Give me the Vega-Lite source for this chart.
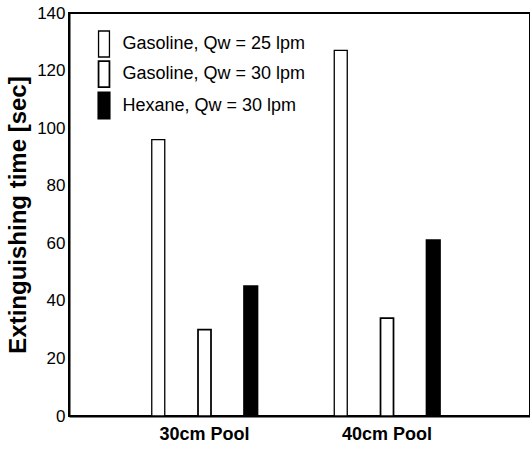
{
  "$schema": "https://vega.github.io/schema/vega-lite/v6.json",
  "width": 461,
  "height": 403,
  "autosize": {"type": "none"},
  "padding": {"left": 69, "top": 13, "right": 0, "bottom": 37},
  "background": "white",
  "config": {
    "font": "Liberation Sans",
    "view": {"stroke": "black", "strokeWidth": 2}
  },
  "data": {
    "values": [
      {"pool": "30cm Pool", "series": "Gasoline, Qw = 25 lpm", "time": 96},
      {"pool": "30cm Pool", "series": "Gasoline, Qw = 30 lpm", "time": 30},
      {"pool": "30cm Pool", "series": "Hexane, Qw = 30 lpm", "time": 45},
      {"pool": "40cm Pool", "series": "Gasoline, Qw = 25 lpm", "time": 127},
      {"pool": "40cm Pool", "series": "Gasoline, Qw = 30 lpm", "time": 34},
      {"pool": "40cm Pool", "series": "Hexane, Qw = 30 lpm", "time": 61}
    ]
  },
  "mark": {"type": "bar", "stroke": "black"},
  "encoding": {
    "x": {
      "field": "pool",
      "type": "nominal",
      "scale": {"paddingInner": 0, "paddingOuter": 0.263, "align": 0.461},
      "axis": {
        "title": null,
        "ticks": false,
        "domainColor": "black",
        "domainWidth": 2,
        "labelFontSize": 18,
        "labelFontWeight": "bold",
        "labelColor": "black",
        "labelPadding": 9,
        "labelAngle": 0
      }
    },
    "xOffset": {
      "field": "series",
      "type": "nominal",
      "scale": {
        "domain": ["Gasoline, Qw = 25 lpm", "Gasoline, Qw = 30 lpm", "Hexane, Qw = 30 lpm"],
        "paddingInner": 0.719,
        "paddingOuter": 0.8325
      }
    },
    "y": {
      "field": "time",
      "type": "quantitative",
      "scale": {"domain": [0, 140], "nice": false},
      "axis": {
        "title": "Extinguishing time [sec]",
        "titleFontSize": 24,
        "titleFontWeight": "bold",
        "titleColor": "black",
        "titlePadding": 6,
        "values": [0, 20, 40, 60, 80, 100, 120, 140],
        "ticks": false,
        "domainColor": "black",
        "domainWidth": 2,
        "labelFontSize": 17,
        "labelColor": "black",
        "labelPadding": 4,
        "labelOverlap": false,
        "labelFlush": false,
        "grid": false
      }
    },
    "fill": {
      "field": "series",
      "type": "nominal",
      "scale": {
        "domain": ["Gasoline, Qw = 25 lpm", "Gasoline, Qw = 30 lpm", "Hexane, Qw = 30 lpm"],
        "range": ["white", "white", "black"]
      },
      "legend": {
        "orient": "none",
        "legendX": 20.5,
        "legendY": 17,
        "title": null,
        "padding": 0,
        "symbolType": "M-0.42,-1H0.42V1H-0.42Z",
        "symbolSize": 676,
        "symbolStrokeColor": "black",
        "labelFontSize": 18,
        "labelColor": "black",
        "labelLimit": 0,
        "rowPadding": -3,
        "labelOffset": 4
      }
    },
    "strokeWidth": {
      "field": "series",
      "type": "ordinal",
      "scale": {
        "domain": ["Gasoline, Qw = 25 lpm", "Gasoline, Qw = 30 lpm", "Hexane, Qw = 30 lpm"],
        "range": [1.3, 2.2, 1]
      }
    }
  }
}
